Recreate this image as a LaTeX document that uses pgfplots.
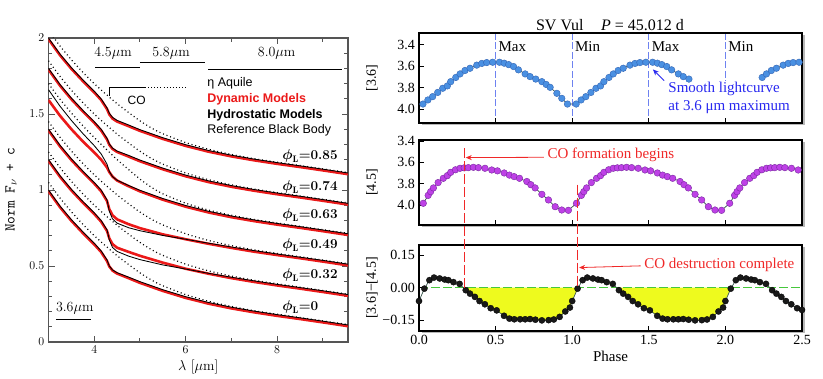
\documentclass[border=0pt,12pt]{standalone}
\usepackage{fontspec}
\usepackage{amsmath}
\usepackage{pgfplots}
\pgfplotsset{compat=1.18}
\usepackage{pgfplotstable}
\usetikzlibrary{arrows.meta}
\newfontfamily\timesf{Liberation Serif}
\newfontfamily\helv{Liberation Sans}

\definecolor{mred}{RGB}{235,25,25}
\definecolor{ptblue}{RGB}{74,144,226}
\definecolor{ptblueedge}{RGB}{50,100,180}
\definecolor{ptmag}{RGB}{190,65,230}
\definecolor{ptmagedge}{RGB}{120,40,160}
\definecolor{cline}{RGB}{55,85,75}
\definecolor{annred}{RGB}{240,40,40}
\definecolor{annblue}{RGB}{40,40,240}
\definecolor{vblue}{RGB}{110,130,240}
\definecolor{fillyel}{RGB}{238,250,30}
\definecolor{zgreen}{RGB}{70,200,60}
\definecolor{framegray}{RGB}{85,85,85}

% spectra, offset by c per phase (a=0.85 b=0.74 c=0.63 d=0.49 e=0.32 f=0)
\pgfplotstableread{
lam a b c d e f
3.00 2.000 1.800 1.660 1.400 1.200 1.000
3.25 1.895 1.695 1.552 1.295 1.095 0.895
3.50 1.805 1.605 1.458 1.205 1.005 0.805
3.75 1.725 1.525 1.372 1.125 0.925 0.725
4.00 1.650 1.450 1.292 1.050 0.850 0.650
4.15 1.600 1.400 1.238 1.000 0.800 0.600
4.28 1.540 1.340 1.170 0.935 0.738 0.540
4.33 1.505 1.303 1.122 0.860 0.672 0.500
4.40 1.478 1.276 1.088 0.810 0.622 0.474
4.50 1.458 1.256 1.064 0.782 0.596 0.456
4.75 1.428 1.228 1.030 0.752 0.565 0.427
5.00 1.397 1.197 0.998 0.732 0.542 0.397
5.50 1.344 1.144 0.944 0.701 0.507 0.344
6.00 1.298 1.098 0.898 0.676 0.480 0.298
6.50 1.260 1.060 0.860 0.650 0.452 0.260
7.00 1.229 1.029 0.829 0.625 0.426 0.229
7.50 1.203 1.003 0.803 0.601 0.402 0.203
8.00 1.180 0.980 0.780 0.579 0.379 0.180
8.50 1.159 0.959 0.759 0.558 0.358 0.159
9.00 1.137 0.937 0.737 0.537 0.337 0.137
9.55 1.112 0.912 0.712 0.512 0.312 0.112
}\tabobs

\pgfplotstableread{
lam a b c d e f
3.00 2.000 1.800 1.600 1.400 1.200 1.000
3.25 1.895 1.695 1.497 1.295 1.095 0.895
3.50 1.805 1.605 1.408 1.205 1.005 0.805
3.75 1.725 1.525 1.328 1.125 0.925 0.725
4.00 1.650 1.450 1.255 1.050 0.850 0.650
4.15 1.600 1.400 1.208 1.000 0.800 0.600
4.28 1.540 1.340 1.156 0.935 0.738 0.540
4.33 1.505 1.305 1.126 0.882 0.690 0.505
4.40 1.478 1.278 1.096 0.842 0.652 0.478
4.50 1.458 1.258 1.070 0.815 0.628 0.458
4.75 1.428 1.228 1.033 0.783 0.601 0.428
5.00 1.397 1.197 0.999 0.757 0.575 0.397
5.50 1.344 1.144 0.944 0.716 0.530 0.344
6.00 1.298 1.098 0.898 0.684 0.490 0.298
6.50 1.260 1.060 0.860 0.654 0.457 0.260
7.00 1.229 1.029 0.829 0.627 0.428 0.229
7.50 1.203 1.003 0.803 0.602 0.403 0.203
8.00 1.180 0.980 0.780 0.580 0.380 0.180
8.50 1.159 0.959 0.759 0.559 0.359 0.159
9.00 1.137 0.937 0.737 0.537 0.337 0.137
9.55 1.112 0.912 0.712 0.512 0.312 0.112
}\tabmod

\pgfplotstableread{
lam a b c d e f
3.00 2.050 1.850 1.700 1.450 1.250 1.050
3.25 1.948 1.748 1.598 1.348 1.148 0.948
3.50 1.857 1.657 1.507 1.257 1.057 0.857
3.75 1.775 1.575 1.423 1.175 0.975 0.775
4.00 1.700 1.500 1.345 1.100 0.900 0.700
4.25 1.632 1.432 1.272 1.032 0.832 0.632
4.50 1.568 1.368 1.200 0.968 0.768 0.568
4.75 1.510 1.310 1.135 0.910 0.710 0.510
5.00 1.455 1.255 1.072 0.855 0.655 0.455
5.25 1.408 1.208 1.018 0.808 0.608 0.408
5.50 1.370 1.170 0.975 0.770 0.570 0.370
6.00 1.312 1.112 0.913 0.712 0.512 0.312
6.50 1.268 1.068 0.868 0.668 0.468 0.268
7.00 1.234 1.034 0.834 0.634 0.434 0.234
7.50 1.206 1.006 0.806 0.606 0.406 0.206
8.00 1.183 0.983 0.783 0.583 0.383 0.183
8.50 1.161 0.961 0.761 0.561 0.361 0.161
9.00 1.139 0.939 0.739 0.539 0.339 0.139
9.55 1.115 0.915 0.715 0.515 0.315 0.115
}\tabbb

\pgfplotsset{
  rp/.style={scale only axis, width=383pt, xmin=0, xmax=2.5, axis on top,
    axis background/.style={fill=white},
    axis line style={black, line width=1.5pt},
    tick style={black, line width=0.7pt}, major tick length=5pt,
    xtick={0.5,1,1.5,2}, xticklabels={}, xtick pos=bottom, ytick pos=left,
    tick align=inside,
    ticklabel style={font=\timesf\fontsize{14}{16}\selectfont},
    every axis y label/.style={at={(axis description cs:-0.123,0.5)}, rotate=90,
      anchor=center, font=\timesf\fontsize{14}{16}\selectfont}}
}
\tikzset{lbl/.style={font=\bfseries\fontsize{13.5}{15}\selectfont, anchor=west, inner sep=0pt},
  mm/.style={anchor=west, inner sep=0pt, font=\timesf\fontsize{15}{17}\selectfont},
  vl/.style={vblue, line width=0.7pt, dash pattern=on 7pt off 2.5pt}}

\begin{document}
\begin{tikzpicture}
\useasboundingbox (0,0) rectangle (823pt,378pt);

% soft shadows of the right-hand frames
\fill[black!28] (421.5pt,252.5pt) rectangle (804.5pt,342.5pt);
\fill[black!28] (421.5pt,150.5pt) rectangle (804.5pt,235.5pt);
\fill[black!28] (421.5pt,44.5pt) rectangle (804.5pt,130.5pt);

% ---------------- left: spectra
\begin{axis}[
  at={(48.5pt,36pt)}, anchor=south west, scale only axis,
  width=299.5pt, height=304pt,
  xmin=3, xmax=9.55, ymin=0, ymax=2,
  xtick={4,6,8}, minor xtick={3,5,7,9},
  ytick={0,0.5,1,1.5,2}, minor y tick num=4,
  axis line style={framegray, line width=1.1pt},
  tick style={framegray, line width=0.9pt},
  major tick length=6pt, minor tick length=3.5pt,
  tick label style={font=\fontsize{13}{15}\selectfont},
  xlabel={$\lambda$ [$\mu$m]}, ylabel={\ttfamily Norm F$_\nu$ + c},
  every axis y label/.style={at={(axis description cs:-0.125,0.5)}, rotate=90, anchor=center, font=\fontsize{15}{17}\selectfont},
  every axis x label/.style={at={(axis description cs:0.5,-0.082)}, anchor=center, font=\fontsize{14}{16}\selectfont},
]
\pgfplotsinvokeforeach{a,b,c,d,e,f}{
  \addplot[black, line width=1.2pt, dash pattern=on 1pt off 2.8pt, smooth, tension=0.4] table[x=lam,y=#1]{\tabbb};
}
\pgfplotsinvokeforeach{a,b,c,d,e,f}{
  \addplot[mred, line width=2.6pt, line join=round, yshift=-1.2pt] table[x=lam,y=#1]{\tabmod};
}
\pgfplotsinvokeforeach{a,b,c,d,e,f}{
  \addplot[black, line width=0.85pt, line join=round] table[x=lam,y=#1]{\tabobs};
}

% IRAC bands
\draw[line width=0.9pt] (axis cs:4.02,1.803) -- (axis cs:5.0,1.803);
\draw[line width=0.9pt] (axis cs:5.0,1.836) -- (axis cs:6.42,1.836);
\draw[line width=0.9pt] (axis cs:6.49,1.796) -- (axis cs:9.42,1.796);
\node[font=\fontsize{14}{16}\selectfont] at (axis cs:4.41,1.90) {4.5$\mu$m};
\node[font=\fontsize{14}{16}\selectfont] at (axis cs:5.68,1.90) {5.8$\mu$m};
\node[font=\fontsize{14}{16}\selectfont] at (axis cs:7.99,1.90) {8.0$\mu$m};
\draw[line width=0.9pt] (axis cs:3.16,0.15) -- (axis cs:3.92,0.15);
\node[font=\fontsize{14}{16}\selectfont, anchor=west, inner sep=0pt] at (axis cs:3.16,0.225) {3.6$\mu$m};

% CO bandhead
\draw[line width=0.9pt] (axis cs:4.33,1.62) -- (axis cs:4.33,1.675) -- (axis cs:5.11,1.675);
\draw[line width=1pt, dash pattern=on 0.9pt off 2.2pt] (axis cs:5.11,1.675) -- (axis cs:6.02,1.675);
\node[font=\helv\fontsize{12}{14}\selectfont] at (axis cs:4.93,1.59) {CO};

% key
\node[anchor=west, inner sep=0pt, font=\helv\fontsize{12.5}{14}\selectfont] at (axis cs:6.47,1.70) {η Aquile};
\node[anchor=west, inner sep=0pt, font=\helv\bfseries\fontsize{12.5}{14}\selectfont, text=mred] at (axis cs:6.47,1.595) {Dynamic Models};
\node[anchor=west, inner sep=0pt, font=\helv\bfseries\fontsize{12.5}{14}\selectfont] at (axis cs:6.47,1.49) {Hydrostatic Models};
\node[anchor=west, inner sep=0pt, font=\helv\fontsize{12.5}{14}\selectfont] at (axis cs:6.47,1.39) {Reference Black Body};

% phases
\node[lbl] at (axis cs:8.11,1.224) {$\boldsymbol{\phi}_{\mathbf{L}}$=0.85};
\node[lbl] at (axis cs:8.11,1.020) {$\boldsymbol{\phi}_{\mathbf{L}}$=0.74};
\node[lbl] at (axis cs:8.11,0.835) {$\boldsymbol{\phi}_{\mathbf{L}}$=0.63};
\node[lbl] at (axis cs:8.11,0.638) {$\boldsymbol{\phi}_{\mathbf{L}}$=0.49};
\node[lbl] at (axis cs:8.11,0.440) {$\boldsymbol{\phi}_{\mathbf{L}}$=0.32};
\node[lbl] at (axis cs:8.11,0.232) {$\boldsymbol{\phi}_{\mathbf{L}}$=0};
\end{axis}

% ---------------- right top: [3.6]
\begin{axis}[rp, at={(419pt,255pt)}, anchor=south west, height=90pt,
  ymin=3.29, ymax=4.13, y dir=reverse,
  ytick={3.4,3.6,3.8,4.0}, yticklabels={3.4,3.6,3.8,4.0}, ylabel={[3.6]}]
\draw[vl] (axis cs:0.5,3.29) -- (axis cs:0.5,4.13);
\draw[vl] (axis cs:1.0,3.29) -- (axis cs:1.0,4.13);
\draw[vl] (axis cs:1.5,3.29) -- (axis cs:1.5,4.13);
\draw[vl] (axis cs:2.0,3.29) -- (axis cs:2.0,3.74);
% part of the curve is hidden behind the annotation
\addplot[cline, line width=0.7pt, mark=*, mark size=3.3pt,
  mark options={fill=ptblue, draw=ptblueedge, line width=0.4pt}] coordinates {
 (0.026,3.953) (0.058,3.915) (0.089,3.884) (0.122,3.845) (0.155,3.806) (0.185,3.784)
 (0.207,3.744) (0.240,3.705) (0.268,3.672) (0.300,3.640) (0.333,3.619) (0.377,3.590)
 (0.410,3.574) (0.442,3.566) (0.481,3.563) (0.525,3.563) (0.556,3.572) (0.585,3.585)
 (0.617,3.603) (0.649,3.634) (0.693,3.672) (0.725,3.697) (0.762,3.720) (0.802,3.744)
 (0.830,3.770) (0.856,3.797) (0.900,3.853) (0.932,3.900) (0.969,3.953)
 (1.026,3.953) (1.058,3.915) (1.089,3.884) (1.122,3.845) (1.155,3.806) (1.185,3.784)
 (1.207,3.744) (1.240,3.705) (1.268,3.672) (1.300,3.640) (1.333,3.619) (1.377,3.590)
 (1.410,3.574) (1.442,3.566) (1.481,3.563) (1.525,3.563) (1.556,3.572) (1.585,3.585)
 (1.617,3.603) (1.649,3.634) (1.693,3.672) (1.725,3.697) (1.762,3.720)};
\addplot[cline, line width=0.7pt, mark=*, mark size=3.3pt,
  mark options={fill=ptblue, draw=ptblueedge, line width=0.4pt}] coordinates {
 (2.240,3.705) (2.268,3.672) (2.300,3.640) (2.333,3.619) (2.377,3.590)
 (2.410,3.574) (2.442,3.566) (2.481,3.563)};
\node[anchor=north west, align=left, inner sep=0pt, text=annblue,
  font=\timesf\fontsize{15}{18}\selectfont] at (axis cs:1.627,3.745) {Smooth lightcurve\\at 3.6 μm maximum};
\draw[annblue, line width=0.8pt, -{Stealth[length=6pt,width=5pt]}] (axis cs:1.600,3.735) -- (axis cs:1.527,3.630);
\node[mm] at (axis cs:0.518,3.418) {Max};
\node[mm] at (axis cs:1.018,3.418) {Min};
\node[mm] at (axis cs:1.518,3.418) {Max};
\node[mm] at (axis cs:2.018,3.418) {Min};
\end{axis}
\node[font=\timesf\fontsize{16}{18}\selectfont] at (610pt,353pt) {SV Vul\hspace{1.1em}{\itshape P} = 45.012 d};

% ---------------- right middle: [4.5]
\begin{axis}[rp, at={(419pt,153pt)}, anchor=south west, height=85pt,
  ymin=3.391, ymax=4.1875, y dir=reverse,
  ytick={3.4,3.6,3.8,4.0}, yticklabels={3.4,3.6,3.8,4.0}, ylabel={[4.5]}]
\addplot[cline, line width=0.7pt, mark=*, mark size=3.3pt,
  mark options={fill=ptmag, draw=ptmagedge, line width=0.4pt}] coordinates {
 (0.028,3.984) (0.060,3.910) (0.076,3.875) (0.094,3.840) (0.125,3.790) (0.159,3.750)
 (0.185,3.725) (0.207,3.694) (0.238,3.670) (0.268,3.656) (0.295,3.652) (0.322,3.650)
 (0.355,3.647) (0.388,3.650) (0.431,3.656) (0.475,3.672) (0.512,3.680) (0.556,3.700)
 (0.590,3.720) (0.621,3.734) (0.656,3.750) (0.704,3.780) (0.730,3.810) (0.758,3.840)
 (0.802,3.900) (0.845,3.953) (0.889,4.016) (0.932,4.047) (0.975,4.050)
 (1.028,3.984) (1.060,3.910) (1.076,3.875) (1.094,3.840) (1.125,3.790) (1.159,3.750)
 (1.185,3.725) (1.207,3.694) (1.238,3.670) (1.268,3.656) (1.295,3.652) (1.322,3.650)
 (1.355,3.647) (1.388,3.650) (1.431,3.656) (1.475,3.672) (1.512,3.680) (1.556,3.700)
 (1.590,3.720) (1.621,3.734) (1.656,3.750) (1.704,3.780) (1.730,3.810) (1.758,3.840)
 (1.802,3.900) (1.845,3.953) (1.889,4.016) (1.932,4.047) (1.975,4.050)
 (2.028,3.984) (2.060,3.910) (2.076,3.875) (2.094,3.840) (2.125,3.790) (2.159,3.750)
 (2.185,3.725) (2.207,3.694) (2.238,3.670) (2.268,3.656) (2.295,3.652) (2.322,3.650)
 (2.355,3.647) (2.388,3.650) (2.431,3.656) (2.475,3.672)};
\coordinate (r1t) at (axis cs:0.296,3.469);
\coordinate (r2t) at (axis cs:1.035,3.81);
\node[anchor=west, inner sep=0pt, text=annred, font=\timesf\fontsize{15}{17}\selectfont] at (axis cs:0.838,3.527) {CO formation begins};
\draw[annred, line width=0.8pt, -{Stealth[length=6pt,width=5pt]}] (axis cs:0.815,3.553) -- (axis cs:0.305,3.556);
\end{axis}

% ---------------- right bottom: colour
\begin{axis}[rp, at={(419pt,47pt)}, anchor=south west, height=86pt,
  ymin=-0.2, ymax=0.196,
  xtick={0,0.5,1,1.5,2,2.5}, xticklabels={0.0,0.5,1.0,1.5,2.0,2.5},
  ytick={-0.15,0,0.15}, yticklabels={−0.15,0.00,0.15},
  ylabel={[3.6]−[4.5]}, xlabel={Phase},
  every axis x label/.style={at={(axis description cs:0.5,-0.30)}, anchor=center, font=\timesf\fontsize{15}{17}\selectfont}]
\addplot[fill=fillyel, draw=none] coordinates {
 (0.288,0) (0.305,-0.012) (0.333,-0.028) (0.365,-0.043) (0.395,-0.062) (0.430,-0.077)
 (0.468,-0.095) (0.507,-0.105) (0.555,-0.130) (0.590,-0.143) (0.622,-0.146) (0.660,-0.146)
 (0.693,-0.146) (0.725,-0.145) (0.760,-0.148) (0.802,-0.151) (0.846,-0.150) (0.880,-0.147)
 (0.918,-0.135) (0.955,-0.110) (0.985,-0.092) (1.000,-0.062) (1.035,-0.005) (1.039,0)} -- cycle;
\addplot[fill=fillyel, draw=none] coordinates {
 (1.288,0) (1.305,-0.012) (1.333,-0.028) (1.365,-0.043) (1.395,-0.062) (1.430,-0.077)
 (1.468,-0.095) (1.507,-0.105) (1.555,-0.130) (1.590,-0.143) (1.622,-0.146) (1.660,-0.146)
 (1.693,-0.146) (1.725,-0.145) (1.760,-0.148) (1.802,-0.151) (1.846,-0.150) (1.880,-0.147)
 (1.918,-0.135) (1.955,-0.110) (1.985,-0.092) (2.000,-0.062) (2.035,-0.005) (2.039,0)} -- cycle;
\draw[zgreen, line width=1.1pt, dash pattern=on 9pt off 3pt] (axis cs:0,0) -- (axis cs:2.5,0);
\addplot[cline, line width=0.7pt, mark=*, mark size=3.1pt,
  mark options={fill=black!90, draw=black, line width=0.3pt}] coordinates {
 (0.000,-0.062) (0.035,-0.005) (0.068,0.034) (0.098,0.046) (0.135,0.042) (0.168,0.037)
 (0.192,0.034) (0.225,0.025) (0.265,0.017) (0.305,-0.012) (0.333,-0.028) (0.365,-0.043)
 (0.395,-0.062) (0.430,-0.077) (0.468,-0.095) (0.507,-0.105) (0.555,-0.130) (0.590,-0.143)
 (0.622,-0.146) (0.660,-0.146) (0.693,-0.146) (0.725,-0.145) (0.760,-0.148) (0.802,-0.151)
 (0.846,-0.150) (0.880,-0.147) (0.918,-0.135) (0.955,-0.110) (0.985,-0.092)
 (1.000,-0.062) (1.035,-0.005) (1.068,0.034) (1.098,0.046) (1.135,0.042) (1.168,0.037)
 (1.192,0.034) (1.225,0.025) (1.265,0.017) (1.305,-0.012) (1.333,-0.028) (1.365,-0.043)
 (1.395,-0.062) (1.430,-0.077) (1.468,-0.095) (1.507,-0.105) (1.555,-0.130) (1.590,-0.143)
 (1.622,-0.146) (1.660,-0.146) (1.693,-0.146) (1.725,-0.145) (1.760,-0.148) (1.802,-0.151)
 (1.846,-0.150) (1.880,-0.147) (1.918,-0.135) (1.955,-0.110) (1.985,-0.092)
 (2.000,-0.062) (2.035,-0.005) (2.068,0.034) (2.098,0.046) (2.135,0.042) (2.168,0.037)
 (2.192,0.034) (2.225,0.025) (2.265,0.017) (2.305,-0.012) (2.333,-0.028) (2.365,-0.043)
 (2.395,-0.062) (2.430,-0.077) (2.468,-0.095) (2.500,-0.103)};
\coordinate (r1b) at (axis cs:0.296,0);
\coordinate (r2b) at (axis cs:1.035,0);
\node[anchor=west, inner sep=0pt, text=annred, font=\timesf\fontsize{15}{17}\selectfont] at (axis cs:1.47,0.103) {CO destruction complete};
\draw[annred, line width=0.8pt, -{Stealth[length=6pt,width=5pt]}] (axis cs:1.447,0.100) -- (axis cs:1.045,0.092);
\end{axis}

\draw[annred, line width=0.7pt, dash pattern=on 10pt off 3pt] (r1t) -- (r1b);
\draw[annred, line width=0.7pt, dash pattern=on 10pt off 3pt] (r2t) -- (r2b);
\end{tikzpicture}
\end{document}
